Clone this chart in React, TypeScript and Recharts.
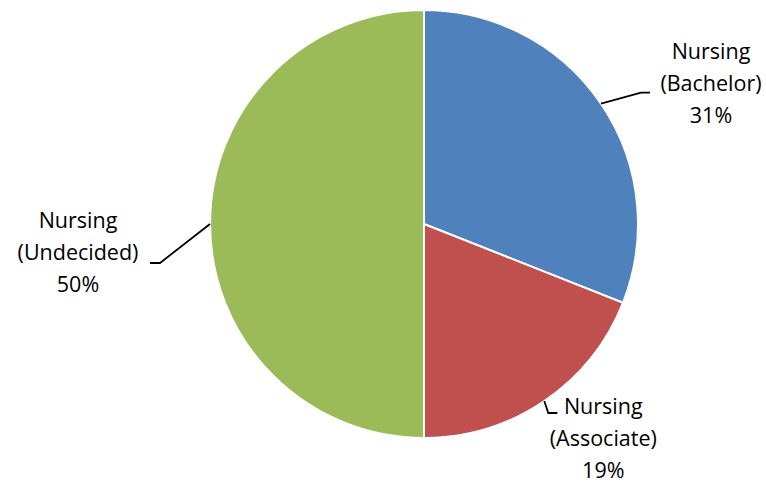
/** Nursing program intent — pie with outside callouts. */
import { useEffect } from 'react'
import { Cell, Pie, PieChart } from 'recharts'

const categories = ['Nursing\n(Bachelor)', 'Nursing\n(Associate)', 'Nursing\n(Undecided)']
const shares = [31, 19, 50]
const colors = ['#4F81BD', '#C0504D', '#9BBB59']

const data = categories.map((name, i) => ({ name, value: shares[i] }))

// callout geometry per slice, relative to the slice's outer edge at midAngle
const callouts = [
  { elbow: [40, -11], end: [49, -11], text: [110, -45] },
  { elbow: [4, 12], end: [13, 12], text: [59, 13] },
  { elbow: [-50, 39], end: [-60, 39], text: [-132, 4] },
]

const RAD = Math.PI / 180
const LINE_H = 32

function renderLabel(props: any) {
  const { cx, cy, midAngle, outerRadius, index, name, value } = props
  const ex = cx + outerRadius * Math.cos(-midAngle * RAD)
  const ey = cy + outerRadius * Math.sin(-midAngle * RAD)
  const c = callouts[index]
  const lines = [...String(name).split('\n'), `${value}%`]
  return (
    <g>
      <polyline
        points={`${ex},${ey} ${ex + c.elbow[0]},${ey + c.elbow[1]} ${ex + c.end[0]},${ey + c.end[1]}`}
        fill="none"
        stroke="#000"
        strokeWidth={1.8}
      />
      <text
        x={ex + c.text[0]}
        y={ey + c.text[1]}
        textAnchor="middle"
        fill="#000"
        style={{ fontFamily: '"Open Sans", sans-serif', fontSize: 21.5 }}
      >
        {lines.map((l, i) => (
          <tspan key={i} x={ex + c.text[0]} dy={i === 0 ? 0 : LINE_H}>
            {l}
          </tspan>
        ))}
      </text>
    </g>
  )
}

export default function App() {
  useEffect(() => {
    document.body.style.margin = '0'
  }, [])

  return (
    <div style={{ width: 766, height: 485, background: '#fff' }}>
      <PieChart width={766} height={485} margin={{ top: 0, right: 0, bottom: 0, left: 0 }}>
        <Pie
          data={data}
          dataKey="value"
          nameKey="name"
          cx={424}
          cy={224}
          outerRadius={214}
          startAngle={90}
          endAngle={-270}
          stroke="#fff"
          strokeWidth={2}
          label={renderLabel}
          labelLine={false}
          isAnimationActive={false}
        >
          {data.map((d, i) => (
            <Cell key={d.name} fill={colors[i]} />
          ))}
        </Pie>
      </PieChart>
    </div>
  )
}
